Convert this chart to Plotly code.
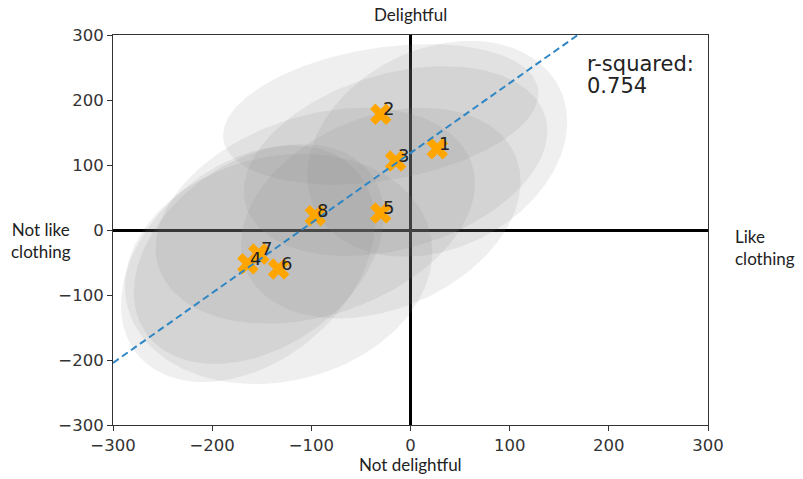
import numpy as np
import plotly.graph_objects as go

# ---- data ----
labels = ["1", "2", "3", "4", "5", "6", "7", "8"]
x_vals = [27, -30, -15, -164, -30, -133, -153, -96]
y_vals = [125, 178, 106, -52, 26, -60, -37, 22]

# spread ellipses per point: horizontal half-extent, vertical half-extent, correlation
ell_hx = [131, 159, 153, 128, 141, 155, 126, 161]
ell_hy = [166, 108, 146, 182, 162, 177, 169, 166]
ell_rho = [0.25, 0.30, 0.32, 0.35, 0.30, 0.15, 0.35, 0.30]

r_squared_label = "r-squared:"
r_squared_text = "0.754"
tick_vals = [-300, -200, -100, 0, 100, 200, 300]
axis_range = [-300, 300]

fig = go.Figure()

# ellipses
t = np.linspace(0, 2 * np.pi, 181)
for cx, cy, hx, hy, r in zip(x_vals, y_vals, ell_hx, ell_hy, ell_rho):
    ex = cx + hx * np.cos(t)
    ey = cy + hy * (r * np.cos(t) + np.sqrt(1 - r * r) * np.sin(t))
    fig.add_trace(go.Scatter(x=ex, y=ey, mode="lines", fill="toself",
                             fillcolor="rgba(128,128,128,0.13)",
                             line=dict(width=0), hoverinfo="skip",
                             showlegend=False))

# markers
fig.add_trace(go.Scatter(x=x_vals, y=y_vals, mode="markers",
                         marker=dict(symbol="x", size=19, color="#FFA500",
                                     line=dict(width=0)),
                         showlegend=False))

# regression line
slope, intercept = np.polyfit(x_vals, y_vals, 1)
lx = np.array(axis_range, dtype=float)
fig.add_trace(go.Scatter(x=lx, y=slope * lx + intercept, mode="lines",
                         line=dict(color="#2f86c4", width=2, dash="7px,4px"),
                         showlegend=False))

annotations = []
for lab, xv, yv in zip(labels, x_vals, y_vals):
    annotations.append(dict(x=xv, y=yv, xref="x", yref="y", text=lab,
                            showarrow=False, xanchor="left", yanchor="bottom",
                            xshift=0, yshift=-7,
                            font=dict(family="DejaVu Sans", size=18, color="#222")))

rfont = dict(family="DejaVu Sans", size=21, color="#222")
annotations.append(dict(x=176, y=256, xref="x", yref="y", text=r_squared_label,
                        showarrow=False, xanchor="left", yanchor="middle",
                        font=rfont))
annotations.append(dict(x=176, y=222, xref="x", yref="y", text=r_squared_text,
                        showarrow=False, xanchor="left", yanchor="middle",
                        font=rfont))

qfont = dict(family="Lato", size=17, color="#222")
annotations += [
    dict(x=0.5, y=1, xref="paper", yref="paper", text="Delightful",
         showarrow=False, xanchor="center", yanchor="bottom", yshift=8, font=qfont),
    dict(x=0.5, y=0, xref="paper", yref="paper", text="Not delightful",
         showarrow=False, xanchor="center", yanchor="top", yshift=-27, font=qfont),
    dict(x=0, y=0.5, xref="paper", yref="paper", text="Not like<br>clothing",
         showarrow=False, xanchor="right", yanchor="middle", align="center",
         xshift=-40, yshift=-10, font=qfont),
    dict(x=1, y=0.5, xref="paper", yref="paper", text="Like<br>clothing",
         showarrow=False, xanchor="left", yanchor="middle", align="left",
         xshift=25, yshift=-17, font=qfont),
]

axis_common = dict(range=axis_range, tickvals=tick_vals, showgrid=False,
                   zeroline=True, zerolinecolor="black", zerolinewidth=3,
                   showline=True, mirror=True, linecolor="#333", linewidth=1,
                   ticks="outside", ticklen=5, tickcolor="#333",
                   tickfont=dict(family="DejaVu Sans", size=16.5, color="#333"))

fig.update_layout(
    width=803, height=479,
    margin=dict(l=113, r=95, t=35, b=54),
    paper_bgcolor="white", plot_bgcolor="white",
    xaxis=axis_common, yaxis=axis_common,
    annotations=annotations,
    showlegend=False,
)

fig.write_html("out.html")
